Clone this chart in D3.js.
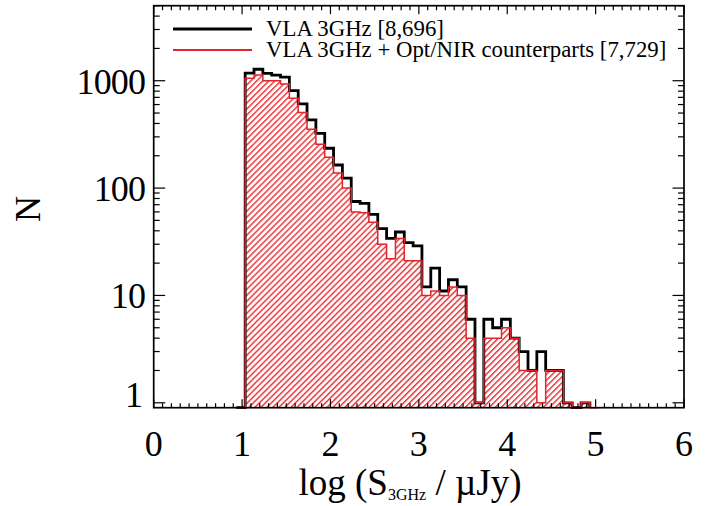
<!DOCTYPE html>
<html><head><meta charset="utf-8">
<script src="https://cdn.jsdelivr.net/npm/d3@7"></script>
<style>html,body{margin:0;padding:0;background:#fff}svg{display:block}text{font-family:"Liberation Serif",serif;fill:#000}</style>
</head><body><svg id="c" width="716" height="506"></svg>
<script>
const firstEdge = 0.935, binWidth = 0.1;
const allCounts = [0.9,1175,1280,1170,1130,1080,809,608,431,324,235,164,124,75,72,57,42,34,39,31,29,12,18,11,14,12,6,1,6,5,6,4,3,2,3,2,2,1,0.9,1];
const optCounts = [0.9,1056,1133,1002,1000,934,687,505,353,256,194,138,100,60,59,48,30,22,34,21,21,10,11,10,12,10,4,1,4,4,5,4,2,2,1,2,2,1,0.9,1,0.9];
const xTicks = [0,1,2,3,4,5,6];
const yTicks = [1,10,100,1000];
const legendLabels = ["VLA 3GHz [8,696]","VLA 3GHz + Opt/NIR counterparts [7,729]"];
const xLabelParts = ["log (S","3GHz"," / µJy)"];
const yLabel = "N";

const L=153.7,R=684,T=5.7,B=407.7;
const x=d3.scaleLinear().domain([0,6]).range([L,R]);
const y=d3.scaleLog().domain([0.9,5000]).range([B,T]);
const svg=d3.select("#c");
const defs=svg.append("defs");
const pat=defs.append("pattern").attr("id","hatch").attr("patternUnits","userSpaceOnUse")
  .attr("width",4.25).attr("height",4.25).attr("patternTransform","rotate(45)");
pat.append("rect").attr("x",0).attr("y",0).attr("width",1.5).attr("height",4.25).attr("fill","#ee3a40");

const step=(c)=>{
  const pts=c.map((v,i)=>[x(firstEdge+i*binWidth),y(v)]);
  pts.push([x(firstEdge+c.length*binWidth),y(c[c.length-1])]);
  return d3.line().curve(d3.curveStepAfter)(pts);
};
svg.append("path").attr("d",step(optCounts)+`V${B}H${x(firstEdge)}Z`).attr("fill","url(#hatch)");
svg.append("path").attr("d",step(allCounts)+`V${B}`).attr("fill","none").attr("stroke","#000").attr("stroke-width",2.8).attr("stroke-linejoin","miter");
svg.append("path").attr("d",step(optCounts)).attr("fill","none").attr("stroke","#e0252b").attr("stroke-width",1.5);

// frame and ticks
const ax=svg.append("g").attr("stroke","#000").attr("stroke-width",1.2);
ax.append("rect").attr("x",L).attr("y",T).attr("width",R-L).attr("height",B-T).attr("fill","none").attr("stroke-width",1.7);
d3.range(0,61).forEach(k=>{
  const v=k/10, len=k%10===0?8.5:4.5;
  ax.append("line").attr("x1",x(v)).attr("x2",x(v)).attr("y1",B).attr("y2",B-len);
  ax.append("line").attr("x1",x(v)).attr("x2",x(v)).attr("y1",T).attr("y2",T+len);
});
d3.range(0,4).forEach(e=>{
  d3.range(1,10).forEach(m=>{
    const v=m*10**e; if(v>5000) return;
    const len=m===1?11.5:6;
    ax.append("line").attr("y1",y(v)).attr("y2",y(v)).attr("x1",L).attr("x2",L+len);
    ax.append("line").attr("y1",y(v)).attr("y2",y(v)).attr("x1",R).attr("x2",R-len);
  });
});
svg.selectAll(".xt").data(xTicks).join("text").attr("x",d=>x(d)).attr("y",456)
  .attr("text-anchor","middle").attr("font-size",36).text(d=>d);
svg.selectAll(".yt").data(yTicks).join("text").attr("x",d=>d===1?142:145).attr("y",d=>d===1?407:y(d)+13)
  .attr("text-anchor","end").attr("font-size",36).attr("letter-spacing",-0.9).text(d=>d);
svg.append("text").attr("transform","translate(40,209) rotate(-90)").attr("text-anchor","middle").attr("font-size",36).text(yLabel);
const xl=svg.append("text").attr("x",410).attr("y",495).attr("text-anchor","middle").attr("font-size",37);
xl.append("tspan").text(xLabelParts[0]);
xl.append("tspan").attr("font-size",16).attr("dy",5).text(xLabelParts[1]);
xl.append("tspan").attr("dy",-5).text(xLabelParts[2]);

const legY=[29,50],legC=["#000","#e0252b"],legW=[3,2.2];
legendLabels.forEach((t,i)=>{
  svg.append("line").attr("x1",173).attr("x2",252).attr("y1",legY[i]).attr("y2",legY[i]).attr("stroke",legC[i]).attr("stroke-width",legW[i]);
  svg.append("text").attr("x",252).attr("y",legY[i]+7).attr("font-size",22.8).attr("dx",14).text(t);
});
</script></body></html>
